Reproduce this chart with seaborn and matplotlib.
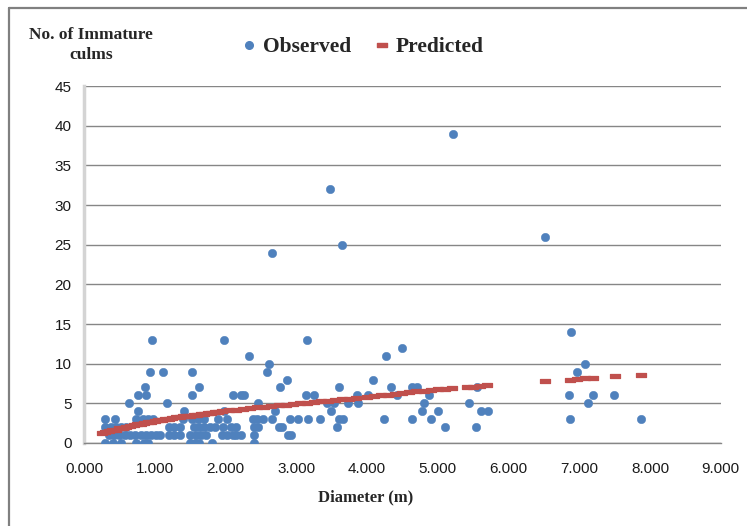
import matplotlib
matplotlib.use("Agg")
import matplotlib.pyplot as plt
import seaborn as sns
import pandas as pd
from matplotlib.lines import Line2D
from matplotlib.path import Path
from matplotlib.font_manager import FontProperties

# ---------------- data ----------------
obs_x = [
    # y = 0
    0.30, 0.41, 0.52, 0.73, 0.85, 0.90, 1.50, 1.57, 1.62, 1.81, 2.40,
    # y = 1
    0.35, 0.42, 0.50, 0.58, 0.65, 0.72, 0.80, 0.87, 0.95, 1.02, 1.08, 1.20, 1.27,
    1.35, 1.50, 1.58, 1.65, 1.72, 1.95, 2.02, 2.10, 2.15, 2.22, 2.40, 2.88, 2.93,
    # y = 2
    0.30, 0.38, 0.45, 0.52, 0.60, 1.20, 1.27, 1.35, 1.55, 1.63, 1.70, 1.78, 1.85,
    1.97, 2.08, 2.15, 2.40, 2.46, 2.75, 2.80, 3.58, 5.10, 5.54,
    # y = 3
    0.30, 0.44, 0.74, 0.84, 0.90, 0.98, 1.40, 1.52, 1.61, 1.69, 1.90, 2.02, 2.39,
    2.45, 2.53, 2.66, 2.91, 3.02, 3.16, 3.34, 3.61, 3.66, 4.24, 4.64, 4.90, 6.87, 7.87,
    # y = 4
    0.76, 1.42, 1.98, 2.70, 3.49, 4.78, 5.01, 5.61, 5.71,
    # y = 5
    0.63, 1.18, 2.46, 3.43, 3.53, 3.73, 3.87, 4.81, 5.44, 7.12,
    # y = 6
    0.77, 0.88, 1.52, 2.11, 2.22, 2.26, 3.14, 3.25, 3.86, 4.01, 4.42, 4.87, 6.85, 7.20, 7.49,
    # y = 7
    0.86, 1.62, 2.77, 3.61, 4.34, 4.64, 4.71, 5.55,
    # y = 8
    2.87, 4.09,
    # y = 9
    0.93, 1.12, 1.52, 2.59, 6.97,
    # y = 10 .. 39
    2.62, 7.08, 2.33, 4.27, 4.49, 0.96, 1.98, 3.15, 6.88, 2.66, 3.65, 6.52, 3.48, 5.22,
]
obs_y = (
    [0] * 11 + [1] * 26 + [2] * 23 + [3] * 27 + [4] * 9 + [5] * 10 + [6] * 15
    + [7] * 8 + [8] * 2 + [9] * 5
    + [10, 10, 11, 11, 12, 13, 13, 13, 14, 24, 25, 26, 32, 39]
)

pred_x = [0.25, 0.30, 0.35, 0.40, 0.45, 0.50, 0.55, 0.60, 0.65, 0.70, 0.75, 0.80,
          0.85, 0.90, 0.95, 1.00, 1.05, 1.10, 1.15, 1.20, 1.25, 1.30, 1.35, 1.40,
          1.45, 1.50, 1.55, 1.60, 1.65, 1.70, 1.75, 1.80, 1.85, 1.90, 1.95,
          2.05, 2.15, 2.25, 2.35, 2.45, 2.55,
          2.65, 2.75, 2.85, 2.95, 3.05, 3.15, 3.25, 3.35, 3.45, 3.55, 3.65, 3.75,
          3.85, 4.00, 4.10, 4.20, 4.30, 4.40, 4.50, 4.60, 4.70, 4.80, 4.90, 5.00,
          5.10, 5.20, 5.42, 5.50, 5.60, 5.70, 6.52, 6.87, 6.97, 7.08, 7.20, 7.50, 7.87]
pred_y = [1.20, 1.33, 1.45, 1.58, 1.70, 1.83, 1.95, 2.05, 2.15, 2.25, 2.35, 2.45,
          2.55, 2.62, 2.70, 2.78, 2.85, 2.93, 3.00, 3.08, 3.15, 3.22, 3.30, 3.35,
          3.40, 3.45, 3.50, 3.55, 3.60, 3.68, 3.75, 3.80, 3.85, 3.92, 4.00,
          4.1, 4.2, 4.3, 4.4, 4.5, 4.6,
          4.7, 4.8, 4.85, 4.95, 5.0, 5.1, 5.2, 5.25, 5.35, 5.4, 5.5, 5.6,
          5.65, 5.8, 5.9, 6.0, 6.1, 6.2, 6.3, 6.4, 6.5, 6.6, 6.7, 6.8,
          6.85, 6.9, 7.0, 7.05, 7.15, 7.25, 7.8, 7.9, 8.05, 8.15, 8.2, 8.4, 8.6]

x_ticks = [0, 1, 2, 3, 4, 5, 6, 7, 8, 9]
x_tick_labels = ["0.000", "1.000", "2.000", "3.000", "4.000",
                 "5.000", "6.000", "7.000", "8.000", "9.000"]
y_ticks = [0, 5, 10, 15, 20, 25, 30, 35, 40, 45]
series_names = ["Observed", "Predicted"]

# ---------------- style ----------------
sns.set_style("white")
plt.rcParams['font.family'] = ['Liberation Sans', 'DejaVu Sans']

BLUE = "#4F81BD"
RED = "#C0504D"
GRID = "#868686"

W, H = 747, 526
fig = plt.figure(figsize=(W / 100, H / 100), dpi=100)
ax = fig.add_axes([84 / W, 1 - 443 / H, (720.7 - 84) / W, (443 - 86) / H])

df_obs = pd.DataFrame({"Diameter": obs_x, "Culms": obs_y})
df_pred = pd.DataFrame({"Diameter": pred_x, "Culms": pred_y})

dash = Path([(-1, -0.5), (1, -0.5), (1, 0.5), (-1, 0.5), (-1, -0.5)],
            [Path.MOVETO, Path.LINETO, Path.LINETO, Path.LINETO, Path.CLOSEPOLY])

sns.scatterplot(data=df_pred, x="Diameter", y="Culms", marker=dash, s=46,
                color=RED, edgecolor=RED, linewidth=0.9, ax=ax, zorder=4, legend=False)
sns.scatterplot(data=df_obs, x="Diameter", y="Culms", marker="o", s=36,
                color=BLUE, edgecolor=BLUE, linewidth=0.4, ax=ax, zorder=3, legend=False)

ax.set_xlim(0, 9)
ax.set_ylim(0, 45)
ax.set_xticks(x_ticks)
ax.set_xticklabels(x_tick_labels)
ax.set_yticks(y_ticks)
ax.set_xlabel("")
ax.set_ylabel("")

ax.yaxis.grid(True, color=GRID, lw=1.0)
ax.xaxis.grid(False)
ax.set_axisbelow(True)

for s in ["top", "right"]:
    ax.spines[s].set_visible(False)
ax.spines["left"].set_color("#D4D4D4")
ax.spines["left"].set_linewidth(2.5)
ax.spines["bottom"].set_color(GRID)
ax.spines["bottom"].set_linewidth(1.0)

ax.tick_params(axis="y", length=6, width=1, color=GRID, pad=3,
               labelsize=11, labelcolor="#1a1a1a")
ax.tick_params(axis="x", length=6, width=1, color="#A6A6A6", pad=8,
               labelsize=11, labelcolor="#1a1a1a")

serif_b = dict(family=["Liberation Serif", "DejaVu Serif"], weight="bold")

fig.text(91 / W, 1 - 39 / H, "No. of Immature", ha="center", va="baseline",
         size=12.5, **serif_b)
fig.text(91 / W, 1 - 59 / H, "culms", ha="center", va="baseline",
         size=12.5, **serif_b)
fig.text(366 / W, 1 - 497 / H, "Diameter (m)", ha="center", va="center",
         size=12, **serif_b)

handles = [
    Line2D([], [], ls="", marker="o", markersize=5.5, color=BLUE),
    Line2D([], [], ls="", marker=dash, markersize=7, color=RED),
]
fig.legend(handles, series_names, loc="center", bbox_to_anchor=(362 / W, 1 - 47 / H),
           ncol=2, frameon=False, handlelength=0.8, handletextpad=0.25,
           columnspacing=1.0, borderaxespad=0, borderpad=0,
           prop=FontProperties(family="Liberation Serif", weight="bold", size=15.5))

# outer chart frame (top and left edges visible)
fig.add_artist(Line2D([9 / W, 1], [1 - 8 / H, 1 - 8 / H], transform=fig.transFigure,
                      color="#808080", lw=1.6))
fig.add_artist(Line2D([9 / W, 9 / W], [0, 1 - 8 / H], transform=fig.transFigure,
                      color="#808080", lw=1.6))

fig.savefig("out.png", dpi=100)
